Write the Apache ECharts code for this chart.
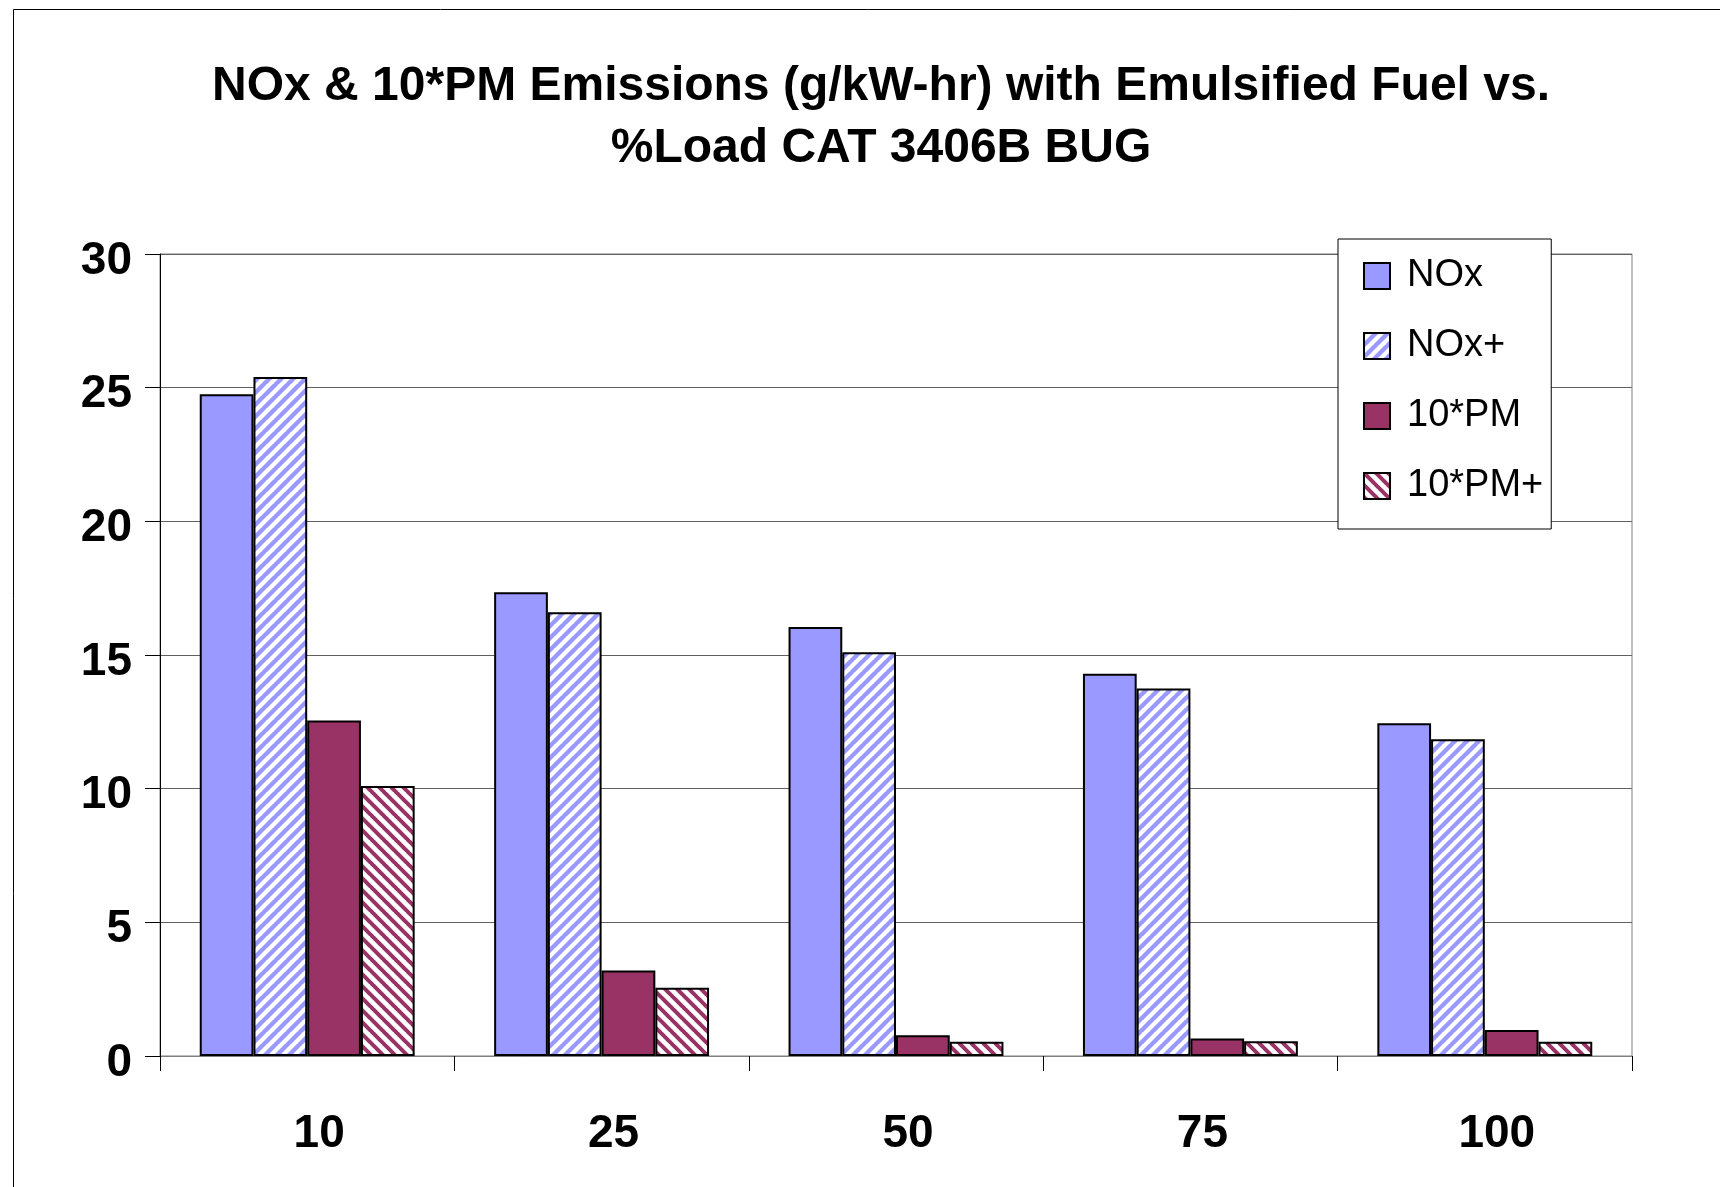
<!DOCTYPE html>
<html>
<head>
<meta charset="utf-8">
<script src="https://cdn.jsdelivr.net/npm/echarts@6/dist/echarts.min.js"></script>
<style>
  html, body { margin: 0; padding: 0; background: #fff; }
  #chart { width: 1720px; height: 1187px; }
</style>
</head>
<body>
<div id="chart"></div>
<script>
// Percent load categories
const loads = ['10', '25', '50', '75', '100'];

// Emissions in g/kW-hr (PM scaled by 10)
const nox      = [24.75, 17.35, 16.05, 14.3, 12.45];
const noxPlus  = [25.4, 16.6, 15.1, 13.75, 11.85];
const pm10     = [12.55, 3.2, 0.78, 0.65, 0.97];
const pm10Plus = [10.1, 2.55, 0.53, 0.55, 0.53];

const seriesNames = ['NOx', 'NOx+', '10*PM', '10*PM+'];
const yTicks = { min: 0, max: 30, interval: 5 };

const BLUE = '#9999FF';
const MAROON = '#993366';
const FONT = '"Liberation Sans", Arial, sans-serif';

// Diagonal hatch tile; dir '/' rises to the right, '\' falls to the right
function hatch(color, dir, size, width) {
  const c = document.createElement('canvas');
  c.width = size; c.height = size;
  const g = c.getContext('2d');
  g.fillStyle = '#ffffff';
  g.fillRect(0, 0, size, size);
  g.strokeStyle = color;
  g.lineWidth = width;
  g.beginPath();
  for (let k = -1; k <= 1; k++) {
    const o = k * size;
    if (dir === '/') {
      g.moveTo(o - 1, size + 1);
      g.lineTo(o + size + 1, -1);
    } else {
      g.moveTo(o - 1, -1);
      g.lineTo(o + size + 1, size + 1);
    }
  }
  g.stroke();
  return { image: c, repeat: 'repeat' };
}

const fills = [
  BLUE,
  hatch(BLUE, '/', 12, 4.4),
  MAROON,
  hatch(MAROON, '\\', 12, 4)
];
const values = [nox, noxPlus, pm10, pm10Plus];

const chart = echarts.init(document.getElementById('chart'), null, { renderer: 'canvas' });

chart.setOption({
  animation: false,
  backgroundColor: '#ffffff',
  title: {
    text: 'NOx & 10*PM Emissions (g/kW-hr) with Emulsified Fuel vs.\n%Load CAT 3406B BUG',
    left: 876,
    top: 51,
    textAlign: 'center',
    textStyle: {
      fontFamily: FONT,
      fontSize: 48,
      fontWeight: 'bold',
      lineHeight: 62,
      color: '#000'
    }
  },
  graphic: [{
    type: 'rect',
    left: 11,
    top: 7,
    shape: { width: 1740, height: 1220 },
    style: { fill: null, stroke: '#000', lineWidth: 1 },
    silent: true,
    z: -10
  }],
  legend: {
    orient: 'vertical',
    left: 1338,
    top: 239,
    padding: [18, 8, 24, 25],
    itemWidth: 26,
    itemHeight: 26,
    itemGap: 32,
    icon: 'rect',
    backgroundColor: '#fff',
    borderColor: '#000',
    borderWidth: 1,
    textStyle: {
      fontFamily: FONT,
      fontSize: 38,
      lineHeight: 36,
      color: '#000',
      padding: [0, 0, 0, 12]
    },
    data: seriesNames
  },
  grid: {
    left: 160,
    top: 254,
    right: 88,
    bottom: 131,
    show: true,
    borderColor: '#808080',
    borderWidth: 1,
    containLabel: false
  },
  xAxis: {
    type: 'category',
    data: loads,
    axisLine: { lineStyle: { color: '#808080', width: 1 } },
    axisTick: { show: true, length: 15, inside: false, lineStyle: { color: '#000' } },
    axisLabel: {
      fontFamily: FONT,
      fontSize: 46,
      fontWeight: 'bold',
      color: '#000',
      margin: 55,
      padding: [0, 0, 0, 24]
    }
  },
  yAxis: {
    type: 'value',
    min: yTicks.min,
    max: yTicks.max,
    interval: yTicks.interval,
    axisLine: { show: true, lineStyle: { color: '#000', width: 1 } },
    axisTick: { show: true, length: 15, lineStyle: { color: '#000' } },
    splitLine: { show: true, lineStyle: { color: '#606060', width: 1 } },
    axisLabel: {
      fontFamily: FONT,
      fontSize: 46,
      fontWeight: 'bold',
      color: '#000',
      margin: 28,
      verticalAlign: 'top',
      lineHeight: 14
    }
  },
  series: seriesNames.map((name, i) => ({
    name: name,
    type: 'bar',
    data: values[i],
    barGap: '0%',
    barCategoryGap: '27%',
    itemStyle: {
      color: fills[i],
      borderColor: '#000',
      borderWidth: 2
    }
  }))
});
</script>
</body>
</html>
